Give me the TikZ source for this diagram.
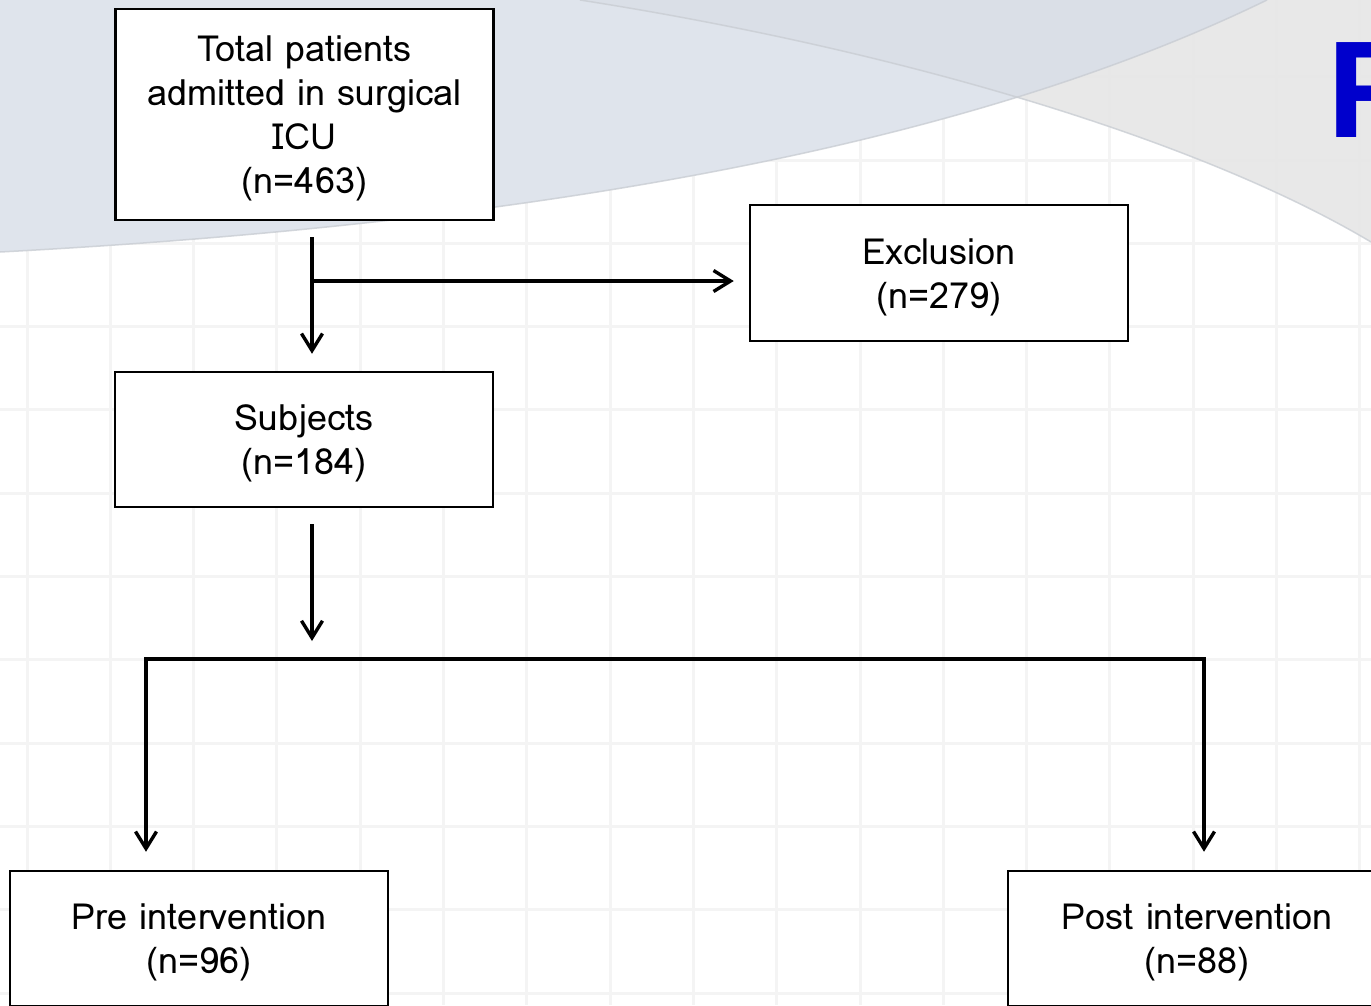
\documentclass[tikz,border=0pt]{standalone}
\usepackage{fontspec}
\setmainfont{Loma}
\newfontfamily\rfont{Liberation Sans}
\usetikzlibrary{arrows.meta,calc}
\definecolor{swooshA}{HTML}{DFE4EC}
\definecolor{swooshB}{HTML}{ECECEC}
\definecolor{gridc}{HTML}{F4F4F4}
\definecolor{edgec}{HTML}{C9CDD3}
\definecolor{rblue}{HTML}{0000CC}
\newcommand{\boxtext}[1]{\raisebox{-4.5pt}[\height][\depth]{\begin{tabular}{@{}c@{}}#1\end{tabular}}}
\tikzset{
  box/.style={draw=black, line width=2.5pt, fill=white, minimum width=378pt, inner sep=0pt,
    font=\fontsize{36}{44}\selectfont},
  conn/.style={line width=3.4pt, -{Straight Barb[length=17pt,width=21pt]}},
  plainconn/.style={line width=3.4pt},
}
\begin{document}
\begin{tikzpicture}[x=1pt,y=-1pt]
\useasboundingbox (0,0) rectangle (1371,1005);
\clip (0,0) rectangle (1371,1005);
\fill[white] (0,0) rectangle (1371,1005);
% grid
\foreach \i in {0,...,16} {
  \draw[gridc, line width=3pt] ({27+83.3*\i},0) -- ({27+83.3*\i},1005);
}
\foreach \j in {-2,...,10} {
  \draw[gridc, line width=3pt] (0,{160+83.3*\j}) -- (1371,{160+83.3*\j});
}
% swooshes
\fill[swooshB, fill opacity=0.9] (580,0) .. controls (900,50) and (1200,140) .. (1371,242) -- (1371,0) -- cycle;
\fill[swooshA] (0,0) -- (0,252) .. controls (600,220) and (1000,130) .. (1267,0) -- cycle;
\fill[black, fill opacity=0.02] (580,0) .. controls (900,50) and (1200,140) .. (1371,242) -- (1371,0) -- cycle;
\draw[edgec, line width=1.5pt, opacity=0.8] (0,252) .. controls (600,220) and (1000,130) .. (1267,0);
\draw[edgec, line width=1.5pt, opacity=0.8] (580,0) .. controls (900,50) and (1200,140) .. (1371,242);
% blue R
\node[anchor=base west, inner sep=0pt, text=rblue, font=\rfont\bfseries\fontsize{138}{138}\selectfont] (rletter) at (1327,137) {R};
% boxes
\node[box, minimum height=211pt] (total) at (304.5,114.5) {\boxtext{Total patients\\admitted in surgical\\ICU\\(n=463)}};
\node[box, minimum height=136pt] (excl) at (939,273) {\boxtext{Exclusion\\(n=279)}};
\node[box, minimum height=135pt] (subj) at (304,439.5) {\boxtext{Subjects\\(n=184)}};
\node[box, minimum height=135pt] (pre) at (199,938.5) {\boxtext{Pre intervention\\(n=96)}};
\node[box, minimum height=135pt] (post) at (1197,938.5) {\boxtext{Post intervention\\(n=88)}};
% connectors
\coordinate (t0) at ([xshift=7.5pt,yshift=-16pt]total.south);
\coordinate (j1) at (312,281);
\draw[conn] (t0) -- ([xshift=8pt,yshift=17pt]subj.north);
\draw[conn] (j1) -- ([xshift=-15pt]j1 -| excl.west);
\coordinate (s0) at ([xshift=8pt,yshift=-16pt]subj.south);
\coordinate (split) at (312,659);
\coordinate (sl) at (146,659);
\coordinate (sr) at (1204,659);
\draw[conn] (s0) -- ([yshift=18pt]split);
\draw[plainconn, line cap=rect] (sl) -- (sr);
\draw[conn] (sl) -- ([yshift=18pt]sl |- pre.north);
\draw[conn] (sr) -- ([yshift=18pt]sr |- post.north);
\end{tikzpicture}
\end{document}
